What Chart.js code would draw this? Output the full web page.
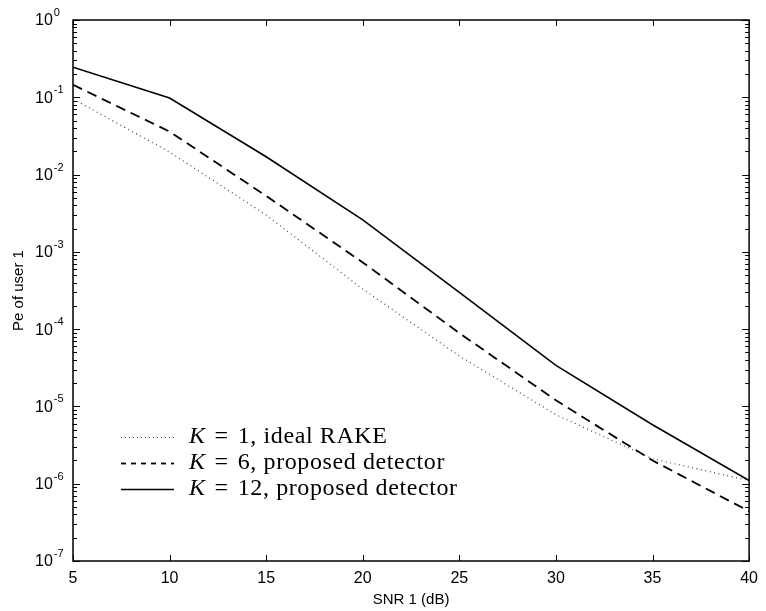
<!DOCTYPE html>
<html>
<head>
<meta charset="utf-8">
<script src="https://cdn.jsdelivr.net/npm/chart.js@4"></script>
<style>
  html, body { margin: 0; padding: 0; background: #fff; }
  #wrap { width: 766px; height: 611px; }
</style>
</head>
<body>
<div id="wrap"><canvas id="chart"></canvas></div>
<script>
// Data (SNR of user 1 in dB vs. bit error probability)
const snrDb = [5, 10, 15, 20, 25, 30, 35, 40];
const peK1  = [0.095, 0.0196, 3.0e-3, 3.3e-4, 4.5e-5, 7.8e-6, 2.1e-6, 1.1e-6];
const peK6  = [0.145, 0.036, 5.3e-3, 7.3e-4, 8.9e-5, 1.2e-5, 2.0e-6, 4.4e-7];
const peK12 = [0.245, 0.098, 0.017, 2.6e-3, 3.0e-4, 3.4e-5, 5.8e-6, 1.1e-6];

// Axis ticks
const xTicks = [5, 10, 15, 20, 25, 30, 35, 40];
const yExponents = [0, -1, -2, -3, -4, -5, -6, -7];

// Legend text: [K value, rest of the label]
const legendK = ['1', '6', '12'];
const legendRest = [', ideal RAKE', ', proposed detector', ', proposed detector'];

const LABEL_FONT = '"Liberation Sans", Arial, Helvetica, sans-serif';
const SERIF_FONT = '"Liberation Serif", "Times New Roman", serif';

function toPoints(values) {
    return snrDb.map((x, i) => ({ x: x, y: values[i] }));
}

// Box, inward ticks, y labels with superscripts, and the legend
const matlabAxes = {
    id: 'matlabAxes',
    afterDraw(chart) {
        const ctx = chart.ctx;
        const area = chart.chartArea;
        const xs = chart.scales.x;
        const ys = chart.scales.y;

        ctx.save();
        ctx.strokeStyle = '#000';
        ctx.lineWidth = 1.5;
        ctx.strokeRect(area.left, area.top, area.right - area.left, area.bottom - area.top);

        // x ticks, bottom and top
        ctx.lineWidth = 1;
        ctx.beginPath();
        xTicks.forEach(v => {
            const px = Math.round(xs.getPixelForValue(v)) + 0.5;
            ctx.moveTo(px, area.bottom); ctx.lineTo(px, area.bottom - 6);
            ctx.moveTo(px, area.top); ctx.lineTo(px, area.top + 6);
        });
        // y ticks, major and minor, left and right
        yExponents.forEach(e => {
            for (let m = 1; m <= 9; m++) {
                const val = m * Math.pow(10, e);
                if (e === 0 && m > 1) continue;
                const py = Math.round(ys.getPixelForValue(val)) + 0.5;
                const len = m === 1 ? 7 : 4;
                ctx.moveTo(area.left, py); ctx.lineTo(area.left + len, py);
                ctx.moveTo(area.right, py); ctx.lineTo(area.right - len, py);
            }
        });
        ctx.stroke();

        // y tick labels 10^e
        ctx.fillStyle = '#000';
        ctx.textBaseline = 'middle';
        ctx.textAlign = 'left';
        yExponents.forEach(e => {
            const py = ys.getPixelForValue(Math.pow(10, e));
            ctx.font = '16px ' + LABEL_FONT;
            ctx.fillText('10', 35, py + 1);
            const w = ctx.measureText('10').width;
            ctx.font = '11px ' + LABEL_FONT;
            ctx.fillText(e === 0 ? '0' : '-' + (-e), 35 + w + 1, py - 7);
        });

        // legend
        const datasets = chart.data.datasets;
        const rowY = [437, 463, 489];
        const legendDash = [[1, 3], [5, 5], []];
        datasets.forEach((ds, i) => {
            const y = rowY[i];
            ctx.beginPath();
            ctx.setLineDash(legendDash[i]);
            ctx.strokeStyle = ds.borderColor;
            ctx.lineWidth = ds.borderWidth;
            ctx.moveTo(121, y + 0.5);
            ctx.lineTo(174, y + 0.5);
            ctx.stroke();
            ctx.setLineDash([]);

            ctx.fillStyle = '#000';
            ctx.textBaseline = 'middle';
            ctx.letterSpacing = '0.6px';
            let x = 189;
            ctx.font = 'italic 24px ' + SERIF_FONT;
            ctx.fillText('K', x, y);
            x += ctx.measureText('K').width + 9;
            ctx.font = '24px ' + SERIF_FONT;
            ctx.fillText('=', x, y);
            x += ctx.measureText('=').width + 9;
            ctx.fillText(legendK[i] + legendRest[i], x, y);
            ctx.letterSpacing = '0px';
        });
        ctx.restore();
    }
};

new Chart(document.getElementById('chart'), {
    type: 'line',
    data: {
        datasets: [
            {
                label: 'K = 1, ideal RAKE',
                data: toPoints(peK1),
                borderColor: '#444',
                borderWidth: 1.2,
                borderDash: [1, 3.5],
                pointRadius: 0,
                tension: 0
            },
            {
                label: 'K = 6, proposed detector',
                data: toPoints(peK6),
                borderColor: '#000',
                borderWidth: 1.8,
                borderDash: [10, 6],
                pointRadius: 0,
                tension: 0
            },
            {
                label: 'K = 12, proposed detector',
                data: toPoints(peK12),
                borderColor: '#000',
                borderWidth: 1.6,
                pointRadius: 0,
                tension: 0
            }
        ]
    },
    options: {
        responsive: true,
        maintainAspectRatio: false,
        animation: false,
        devicePixelRatio: 1,
        layout: { padding: { top: 20, right: 12, left: 0, bottom: 0 } },
        plugins: {
            legend: { display: false },
            tooltip: { enabled: false }
        },
        scales: {
            x: {
                type: 'linear',
                min: 5,
                max: 40,
                afterFit: s => { s.height = 50; },
                afterBuildTicks: s => { s.ticks = xTicks.map(v => ({ value: v })); },
                grid: { display: false, drawTicks: false },
                border: { display: false },
                ticks: {
                    color: '#000',
                    padding: 8,
                    font: { family: LABEL_FONT, size: 16 }
                },
                title: {
                    display: true,
                    text: 'SNR 1 (dB)',
                    color: '#000',
                    padding: { top: 0, bottom: 2 },
                    font: { family: LABEL_FONT, size: 15 }
                }
            },
            y: {
                type: 'logarithmic',
                min: 1e-7,
                max: 1,
                afterFit: s => { s.width = 73; },
                grid: { display: false, drawTicks: false },
                border: { display: false },
                ticks: { display: false },
                title: {
                    display: true,
                    text: 'Pe of user 1',
                    color: '#000',
                    padding: { top: 10, bottom: 0 },
                    font: { family: LABEL_FONT, size: 15 }
                }
            }
        }
    },
    plugins: [matlabAxes]
});
</script>
</body>
</html>
